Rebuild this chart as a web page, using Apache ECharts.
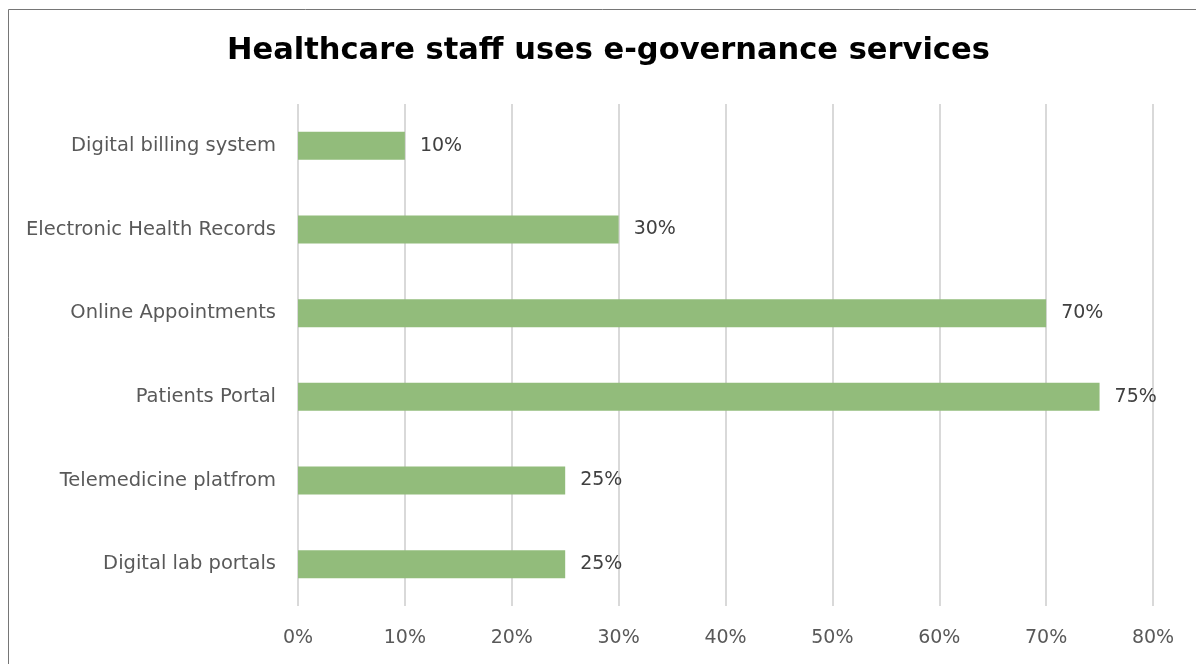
<!DOCTYPE html>
<html><head><meta charset="utf-8">
<script src="https://cdn.jsdelivr.net/npm/echarts@6/dist/echarts.min.js"></script>
<style>html,body{margin:0;padding:0;background:#fff}#c{width:1196px;height:664px}</style>
</head><body><div id="c"></div>
<script>
const titleText = 'Healthcare staff uses e-governance services';
const categories = ['Digital billing system','Electronic Health Records','Online Appointments','Patients Portal','Telemedicine platfrom','Digital lab portals'];
const values = [10, 30, 70, 75, 25, 25];
const xTicks = [0, 10, 20, 30, 40, 50, 60, 70, 80];

const chart = echarts.init(document.getElementById('c'));
chart.setOption({
  animation: false,
  title: {
    text: titleText, left: 222, top: 31,
    textStyle: { fontFamily: 'DejaVu Sans', fontWeight: 'bold', fontSize: 30.5, color: '#000' }
  },
  graphic: [{ type: 'rect', shape: { x: 8.5, y: 9.5, width: 1300, height: 800 }, style: { fill: 'none', stroke: '#767676', lineWidth: 1 } }],
  grid: { left: 298, right: 43, top: 104, bottom: 58 },
  xAxis: {
    type: 'value', min: 0, max: 80, interval: 10,
    axisLine: { show: false }, axisTick: { show: false },
    splitLine: { lineStyle: { color: '#d9d9d9', width: 2 } },
    axisLabel: { formatter: v => xTicks.includes(v) ? v + '%' : '', color: '#595959', fontSize: 19, fontFamily: 'DejaVu Sans', margin: 23 }
  },
  yAxis: {
    type: 'category', data: categories, inverse: true,
    axisLine: { show: false }, axisTick: { show: false },
    axisLabel: { color: '#595959', fontSize: 19.5, fontFamily: 'DejaVu Sans', margin: 22 }
  },
  series: [{
    type: 'bar', data: values, barWidth: 28,
    itemStyle: { color: '#92bc7b' },
    label: { show: true, position: 'right', distance: 15, formatter: '{c}%', color: '#404040', fontSize: 19, fontFamily: 'DejaVu Sans' }
  }]
});
</script></body></html>
